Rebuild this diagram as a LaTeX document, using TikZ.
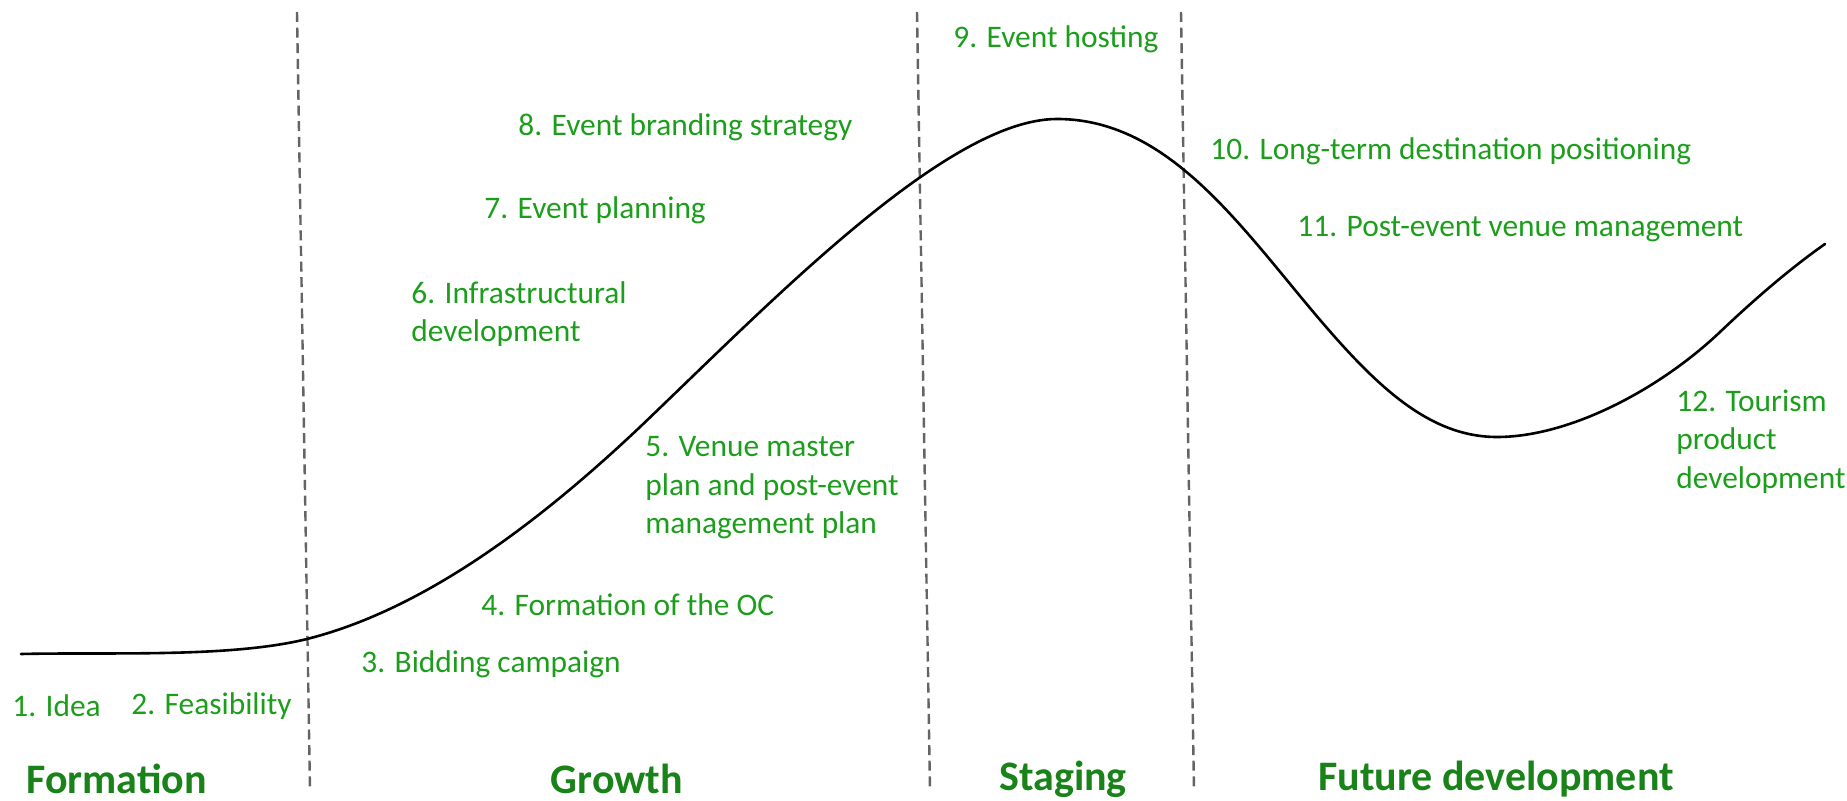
\documentclass[tikz,border=0pt]{standalone}
\usepackage{fontspec}
\setmainfont{Carlito}
\definecolor{labelgreen}{RGB}{28,158,28}
\definecolor{phasegreen}{RGB}{25,130,25}
\definecolor{divider}{RGB}{100,100,100}
\begin{document}
\begin{tikzpicture}[x=0.5pt,y=-0.5pt,
  step label/.style={text=labelgreen,font=\fontsize{15.7}{19.3}\selectfont,inner sep=0pt,align=left},
  phase/.style={text=phasegreen,font=\fontsize{21}{25}\selectfont\bfseries,inner sep=0pt},
  divline/.style={draw=divider,line width=1.2pt,dash pattern=on 5pt off 2.8pt},
  lifecycle/.style={draw=black,line width=1.3pt,line cap=round}]
\useasboundingbox (0,0) rectangle (1847,801);

% phase dividers
\coordinate (d1t) at (297,12);  \coordinate (d1b) at (310,790);
\coordinate (d2t) at (917,12);  \coordinate (d2b) at (930,790);
\coordinate (d3t) at (1181,12); \coordinate (d3b) at (1194,790);
\draw[divline] (d1t) -- (d1b);
\draw[divline] (d2t) -- (d2b);
\draw[divline] (d3t) -- (d3b);

% life-cycle curve
\coordinate (c0) at (21,654);
\coordinate (c1) at (307,639);
\coordinate (c2) at (640,427);
\coordinate (peak) at (1057,119);
\coordinate (c3) at (1295,290);
\coordinate (low) at (1497,437);
\coordinate (c4) at (1720,332);
\coordinate (c5) at (1825,244);
\draw[lifecycle] (c0)
  .. controls (110,652) and (230,658) .. (c1)
  .. controls (418,611) and (530,531) .. (c2)
  .. controls (770,303) and (947,119) .. (peak)
  .. controls (1157,119) and (1225,205) .. (c3)
  .. controls (1365,375) and (1422,437) .. (low)
  .. controls (1570,437) and (1660,389) .. (c4)
  .. controls (1760,294) and (1795,265) .. (c5);

% stages
\node[step label,anchor=west] (s1) at (12,706) {1. Idea};
\node[step label,anchor=west] (s2) at (131,706) {2. Feasibility};
\node[step label,anchor=west] (s3) at (361,664) {3. Bidding campaign};
\node[step label,anchor=west] (s4) at (481,605) {4. Formation of the OC};
\node[step label,anchor=north west] (s5) at (645,436) {5. Venue master\\plan and post-event\\management plan};
\node[step label,anchor=north west] (s6) at (411,281) {6. Infrastructural\\development};
\node[step label,anchor=west] (s7) at (484,210) {7. Event planning};
\node[step label,anchor=west] (s8) at (518,127) {8. Event branding strategy};
\node[step label,anchor=west] (s9) at (953,39) {9. Event hosting};
\node[step label,anchor=west] (s10) at (1210,151) {10. Long-term destination positioning};
\node[step label,anchor=west] (s11) at (1297,229) {11. Post-event venue management};
\node[step label,anchor=north west] (s12) at (1676,389) {12. Tourism\\product\\development};

% phases
\node[phase,anchor=west] (p1) at (26,779) {Formation};
\node[phase] (p2) at (617,779) {Growth};
\node[phase] (p3) at (1063,779) {Staging};
\node[phase] (p4) at (1496,779) {Future development};
\end{tikzpicture}
\end{document}
